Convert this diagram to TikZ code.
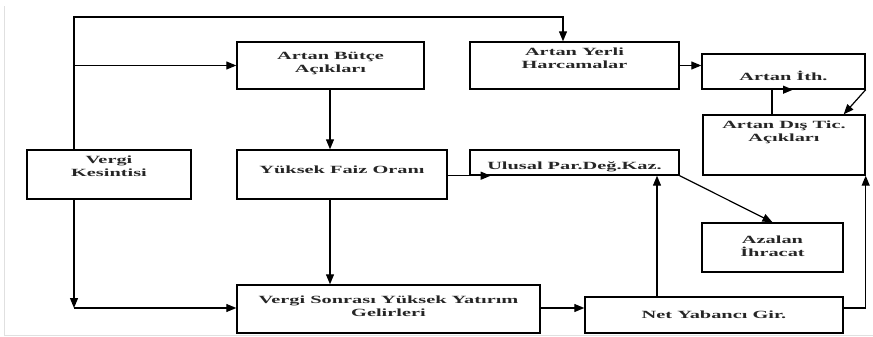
\documentclass[tikz,border=0pt]{standalone}
\usepackage{fontspec}
\newfontfamily\kutufont[FakeStretch=1.85]{Liberation Serif Bold}
\usetikzlibrary{arrows.meta, positioning}

\tikzset{
    kutu/.style={draw, line width=1.4pt, inner sep=0pt},
    yazi/.style={anchor=north, yshift=-6pt, align=center, inner sep=0pt,
        font=\kutufont\fontsize{11}{13}\selectfont, text=black!85,
        execute at begin node=\rule{0pt}{11pt}},
    ok/.style={line width=1.2pt, -{Triangle[length=10pt, width=8pt]}},
    cizgi/.style={line width=1.2pt}
}

\begin{document}
\begin{tikzpicture}[x=1pt, y=-1pt]

    \useasboundingbox (0,0) rectangle (873,337);

    % Frame
    \draw[black!12, line width=1pt] (4,6) -- (4,335) -- (873,335);

    %% Boxes

    % Left column
    \node[kutu, minimum width=164pt, minimum height=49pt,
        label={[yazi]north:{Vergi\\Kesintisi}}] (vergi) at (109,174.5) {};

    % Middle column
    \node[kutu, minimum width=187pt, minimum height=47pt,
        label={[yazi, yshift=-5pt]north:{Artan Bütçe\\Açıkları}}] (butce) at (330.5,65.5) {};
    \node[kutu, minimum width=210pt, minimum height=49pt,
        label={[yazi, yshift=-7pt]north:{Yüksek Faiz Oranı}}] (faiz) at (342,174.5) {};
    \node[kutu, minimum width=303pt, minimum height=48pt,
        label={[yazi, yshift=-5pt]north:{Vergi Sonrası Yüksek Yatırım\\Gelirleri}}] (sonrasi) at (388.5,309) {};

    % Right columns
    \node[kutu, minimum width=209pt, minimum height=47pt,
        label={[yazi]north:{Artan Yerli\\Harcamalar}}] (yerli) at (574.5,65.5) {};
    \node[kutu, minimum width=209pt, minimum height=25pt,
        label={[yazi, yshift=-3pt]north:{Ulusal Par.Değ.Kaz.}}] (ulusal) at (574.5,162.5) {};
    \node[kutu, minimum width=163pt, minimum height=35pt,
        label={[yazi, yshift=-10pt]north:{Artan İth.}}] (ith) at (783.5,71.5) {};
    \node[kutu, minimum width=162pt, minimum height=60pt,
        label={[yazi]north:{Artan Dış Tic.\\Açıkları}}] (distic) at (784,145) {};
    \node[kutu, minimum width=141pt, minimum height=49pt,
        label={[yazi, yshift=-7pt]north:{Azalan\\İhracat}}] (azalan) at (772.5,247.5) {};
    \node[kutu, minimum width=258pt, minimum height=36pt,
        label={[yazi, yshift=-5pt]north:{Net Yabancı Gir.}}] (net) at (714,315) {};

    %% Connectors

    % Helper points
    \coordinate (solust) at (74,17);
    \coordinate (sagust) at (563,17);
    \coordinate (solalt) at (74,308);
    \coordinate (dikey) at (330,0);
    \coordinate (ithdon) at (772,0);
    \coordinate (netdik) at (657,0);

    % From Vergi Kesintisi
    \draw[ok] (vergi.north -| solust) -- (solust) -- (sagust) -- (yerli.north -| sagust);
    \draw[ok] (solust |- butce.west) -- (butce.west);
    \draw[ok] (vergi.south -| solalt) -- (solalt);
    \draw[ok] (solalt) -- (solalt -| sonrasi.west);

    % Middle chain
    \draw[ok] (butce.south -| dikey) -- (faiz.north -| dikey);
    \draw[ok] (faiz.south -| dikey) -- (sonrasi.north -| dikey);
    \draw[ok] (faiz.east |- ulusal.south) -- ++(43,0);
    \draw[ok] (sonrasi.east |- solalt) -- (net.west |- solalt);

    % Right part
    \draw[ok] (yerli.east |- butce.west) -- (ith.west |- butce.west);
    \draw[ok] (distic.north -| ithdon) -- (ith.south -| ithdon) -- ++(21,0);
    \draw[ok] (ith.south east) -- ([xshift=-22pt]distic.north east);
    \draw[ok] (ulusal.south east) -- (azalan.north);
    \draw[ok] (net.north -| netdik) -- (ulusal.south -| netdik);
    \draw[ok] (net.east |- solalt) -| (distic.south east);

\end{tikzpicture}
\end{document}
